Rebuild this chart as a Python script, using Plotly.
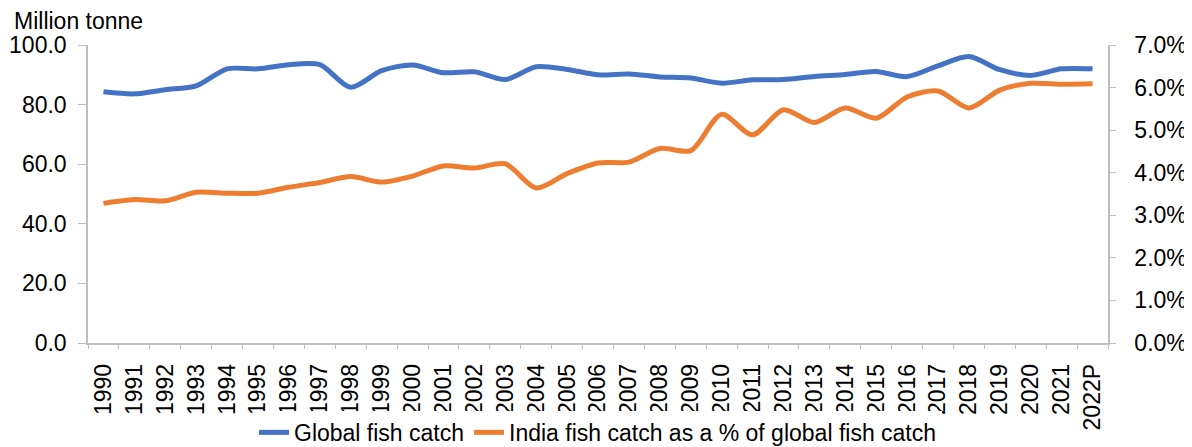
import plotly.graph_objects as go

# years on the x axis
years = ['1990', '1991', '1992', '1993', '1994', '1995', '1996', '1997', '1998', '1999',
         '2000', '2001', '2002', '2003', '2004', '2005', '2006', '2007', '2008', '2009',
         '2010', '2011', '2012', '2013', '2014', '2015', '2016', '2017', '2018', '2019',
         '2020', '2021', '2022P']

# global fish catch, million tonne (left axis)
global_catch = [84.3, 83.6, 85.0, 86.3, 92.0, 92.0, 93.4, 93.4, 85.8, 91.4,
                93.3, 90.7, 91.0, 88.4, 92.7, 91.8, 90.0, 90.3, 89.3, 88.9,
                87.2, 88.3, 88.4, 89.4, 90.1, 91.1, 89.4, 93.0, 96.1, 91.7,
                89.8, 92.0, 92.0]

# India's share of global fish catch, % (right axis)
india_share = [3.28, 3.37, 3.34, 3.54, 3.52, 3.52, 3.66, 3.77, 3.91, 3.78,
               3.92, 4.16, 4.11, 4.21, 3.64, 3.98, 4.23, 4.25, 4.57, 4.52,
               5.37, 4.89, 5.48, 5.18, 5.52, 5.28, 5.78, 5.92, 5.52, 5.94,
               6.10, 6.08, 6.09]

blue = '#4472C4'
orange = '#ED7D31'
axis_col = '#BFBFBF'
fnt = 'Liberation Sans, Arial, sans-serif'

fig = go.Figure()
fig.add_trace(go.Scatter(x=years, y=global_catch, name='Global fish catch',
                         mode='lines', line=dict(color=blue, width=5, shape='spline', smoothing=0.8)))
fig.add_trace(go.Scatter(x=years, y=india_share, name='India fish catch as a % of global fish catch',
                         mode='lines', yaxis='y2',
                         line=dict(color=orange, width=5, shape='spline', smoothing=0.8)))

# the page body has an 8px margin, so the figure is 8px smaller than the window
fig.update_layout(
    width=1184, height=439,
    margin=dict(l=80, r=84, t=37, b=104, autoexpand=False),
    plot_bgcolor='white', paper_bgcolor='white',
    font=dict(family=fnt, size=23, color='#000000'),
    showlegend=True,
    legend=dict(orientation='h', x=0.5, xanchor='center', y=-0.30, yanchor='middle',
                font=dict(size=23), itemwidth=30, tracegroupgap=0),
    xaxis=dict(type='category', range=[-0.5, 32.5], automargin=False, showgrid=False,
               showline=True, linecolor=axis_col, linewidth=1.5,
               ticks='outside', tickson='boundaries', ticklen=4, tickcolor=axis_col,
               tickangle=-90, tickfont=dict(size=23), ticklabelstandoff=10),
    yaxis=dict(range=[0, 100], dtick=20, tickformat='.1f', automargin=False, showgrid=False,
               zeroline=False, showline=True, linecolor=axis_col, linewidth=1.5,
               ticks='outside', ticklen=8, tickcolor=axis_col, ticklabelstandoff=7),
    yaxis2=dict(range=[0, 7], dtick=1, tickformat='.1f', ticksuffix='%', overlaying='y', side='right',
                automargin=False, showgrid=False, zeroline=False, showline=True,
                linecolor=axis_col, linewidth=1.5,
                ticks='outside', ticklen=6, tickcolor=axis_col, ticklabelstandoff=14),
)

fig.add_annotation(text='Million tonne', xref='paper', yref='paper', x=-0.0745, y=1.08,
                   xanchor='left', yanchor='middle', showarrow=False, font=dict(size=23))

fig.write_html("out.html")
